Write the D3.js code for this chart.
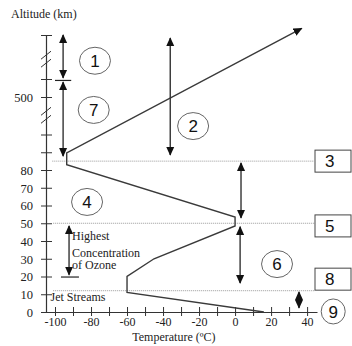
<!DOCTYPE html>
<html><head><meta charset="utf-8">
<script src="https://cdn.jsdelivr.net/npm/d3@7"></script>
<style>body{margin:0;background:#fff}</style>
</head><body><svg id="c" width="352" height="346"></svg>
<script>
// ---- data ----
const xTickValues = [-100,-90,-80,-70,-60,-50,-40,-30,-20,-10,0,10,20,30,40];
const xTickLabels = [-100,-80,-60,-40,-20,0,20,40];
const yTickValues = [0,10,20,30,40,50,60,70,80,90,100,500,600,800];
const yTickLabels = [0,10,20,30,40,50,60,70,80,500];
const yBreaks = [690, 305];
const profileTemp = [16,-60,-60,-45,0,0,-93.5,-93.5,37];
const profileAlt  = [0,11,20,30,48.5,53.5,83,89.6,830];
const levelAlt    = [85,50,12];
const levelLabels = ["3","5","8"];
const boxAlt      = [85,48.5,18.5];
const arrowTemp = [-95.5,-95.5,-36,3.3,2.8,-92.2,35.5];
const arrowFrom = [800,583,786,84,48,48.5,11.3];
const arrowTo   = [605,87.9,88.5,53,16.3,21,2.3];
const dividerTemp = [[-100,-91],[-96.7,-86.7]];
const dividerAlt  = [592,19.7];
const circleLabels = ["1","7","2","4","6","9"];
const circleTemp   = [-77.8,-78.5,-23.3,-82.2,23.3,54.5];
const circleAlt    = [683,362,190,62,27,0.3];
const noteLines = ["Highest","Concentration","of Ozone"];
const noteAlt = [43,33.5,26.5];

// ---- chart ----
const svg = d3.select("#c");
const x = d3.scaleLinear().domain([-105,45.5]).range([46,317]);
const y = d3.scaleLinear().domain([0,100,500,600,800]).range([312,134.5,97,79,35]);
const ink = "#333";
const serif = "'Liberation Serif','DejaVu Serif','Times New Roman',serif";
const sans = "'Liberation Sans',Arial,sans-serif";

const defs = svg.append("defs");
defs.append("marker").attr("id","ah").attr("viewBox","0 -5 10 10")
  .attr("refX",9).attr("refY",0).attr("markerUnits","userSpaceOnUse")
  .attr("markerWidth",9).attr("markerHeight",9).attr("orient","auto-start-reverse")
  .append("path").attr("d","M0,-4.5L10,0L0,4.5Z").attr("fill","#111");

// dotted level lines
svg.append("g").selectAll("line").data(levelAlt).join("line")
  .attr("x1",(d,i)=>x(i===0?-101.5:-101)).attr("x2",x(44))
  .attr("y1",d=>y(d)).attr("y2",d=>y(d))
  .attr("stroke","#999").attr("stroke-width",1).attr("stroke-dasharray","1,1");

// axes
const xAxis = d3.axisBottom(x).tickValues(xTickValues).tickSize(0).tickSizeOuter(0).tickPadding(5)
  .tickFormat(d=>xTickLabels.includes(d)?d:"");
const gx = svg.append("g").attr("transform",`translate(0,${y(0)})`).call(xAxis);
gx.selectAll(".tick").append("line").attr("y1",-5).attr("y2",4).attr("stroke",ink);
const yAxis = d3.axisLeft(y).tickValues(yTickValues).tickSize(0).tickSizeOuter(0).tickPadding(13)
  .tickFormat(d=>yTickLabels.includes(d)?d:"");
const gy = svg.append("g").attr("transform",`translate(${x(-105)},0)`).call(yAxis);
gy.selectAll(".tick").append("line").attr("x1",-5).attr("x2",6).attr("stroke",ink);
[gx,gy].forEach(g=>{
  g.attr("font-family",serif);
  g.select(".domain").attr("stroke",ink).attr("stroke-width",1.2);
  g.selectAll("text").attr("font-family",serif).attr("font-size",12).attr("fill","#222");
});
gy.selectAll("text").attr("dy","0.35em").attr("font-size",12.5);
// axis breaks
yBreaks.forEach(b=>{
  [-4,4].forEach(o=>{
    svg.append("line").attr("x1",x(-105)-5).attr("x2",x(-105)+5)
      .attr("y1",y(b)+o+4).attr("y2",y(b)+o-4).attr("stroke",ink).attr("stroke-width",1);
  });
});

// temperature profile
const pts = profileTemp.map((t,i)=>[x(t),y(profileAlt[i])]);
svg.append("path").attr("d",d3.line()(pts)).attr("fill","none")
  .attr("stroke","#3a3a3a").attr("stroke-width",1.4).attr("marker-end","url(#ah)");

// arrows
svg.append("g").selectAll("line").data(arrowTemp).join("line")
  .attr("x1",d=>x(d)).attr("x2",d=>x(d))
  .attr("y1",(d,i)=>y(arrowFrom[i])).attr("y2",(d,i)=>y(arrowTo[i]))
  .attr("stroke","#333").attr("stroke-width",1.4)
  .attr("marker-start","url(#ah)").attr("marker-end","url(#ah)");
// dividers
dividerAlt.forEach((a,i)=>{
  svg.append("line").attr("x1",x(dividerTemp[i][0])).attr("x2",x(dividerTemp[i][1]))
    .attr("y1",y(a)).attr("y2",y(a)).attr("stroke","#222").attr("stroke-width",1.2);
});

// boxes
const bw=36,bh=22;
levelLabels.forEach((l,i)=>{
  const cx=333, cy=y(boxAlt[i]);
  svg.append("rect").attr("x",cx-bw/2).attr("y",cy-bh/2).attr("width",bw).attr("height",bh)
    .attr("fill","#fff").attr("stroke","#444").attr("stroke-width",1);
  svg.append("text").attr("x",cx-8).attr("y",cy).attr("dy","0.36em")
    .attr("font-family",sans).attr("font-size",17).attr("fill","#111").text(l);
});

// circles
circleLabels.forEach((l,i)=>{
  const cx=x(circleTemp[i]), cy=y(circleAlt[i]);
  svg.append("ellipse").attr("cx",cx).attr("cy",cy).attr("rx",i===5?12:15.5).attr("ry",i===5?12.5:13.5)
    .attr("fill","none").attr("stroke","#666").attr("stroke-width",1);
  svg.append("text").attr("x",cx).attr("y",cy).attr("dy","0.36em").attr("text-anchor","middle")
    .attr("font-family",sans).attr("font-size",17).attr("fill","#111").text(l);
});

// texts
const txt = (s,px,py,anchor)=>svg.append("text").attr("x",px).attr("y",py).attr("dy","0.35em")
  .attr("text-anchor",anchor||"start").attr("font-family",serif).attr("font-size",12).attr("fill","#222").text(s);
noteLines.forEach((s,i)=>txt(s,x(-90.5),y(noteAlt[i])));
txt("Jet Streams",x(-102.5),y(8.5));
txt("Altitude (km)",11,14);
txt("Temperature (ºC)",x(-34),337,"middle");
</script></body></html>
